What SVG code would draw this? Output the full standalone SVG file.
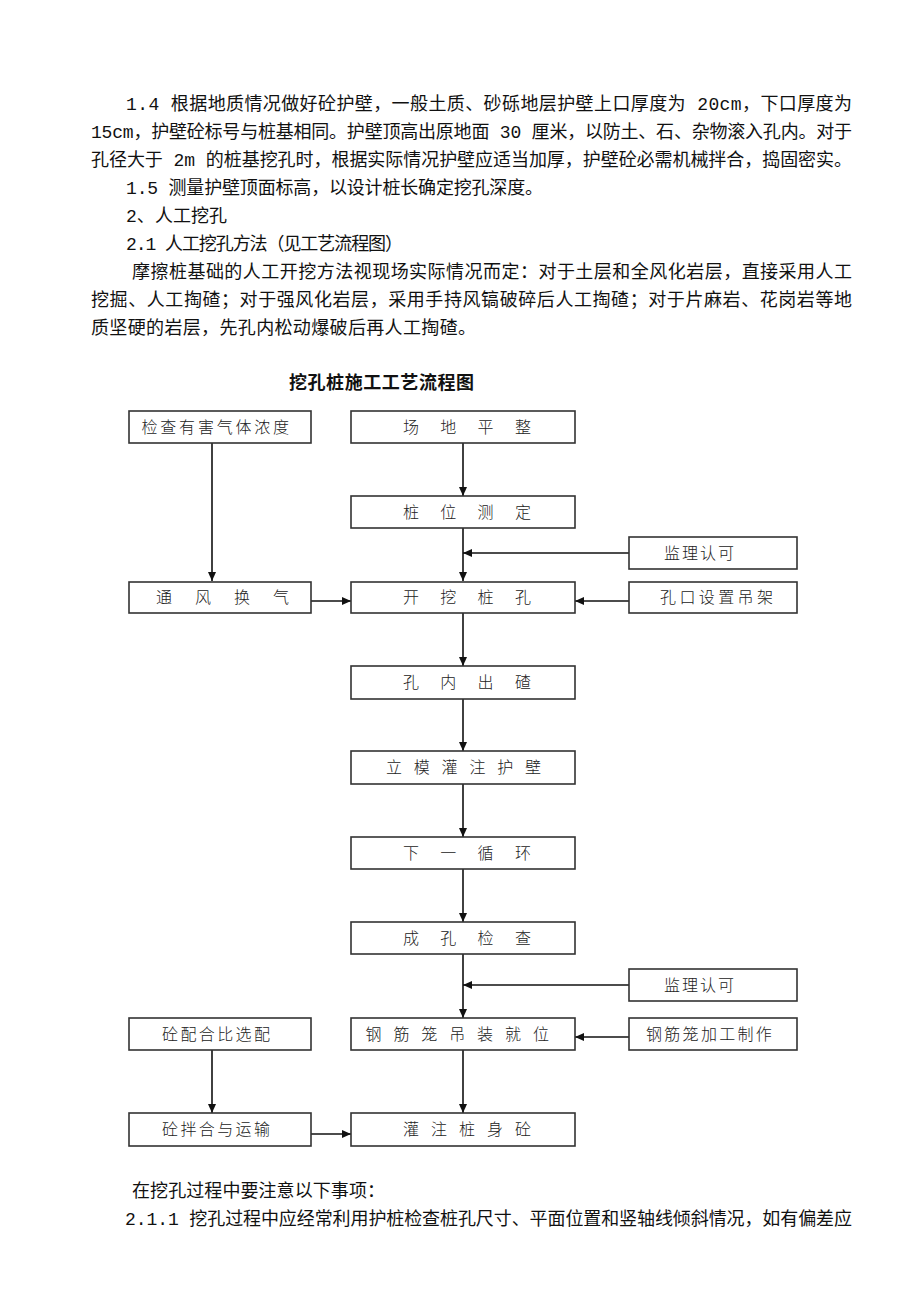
<svg xmlns="http://www.w3.org/2000/svg" width="920" height="1302" viewBox="0 0 920 1302">
<style>
.body{font-family:"Liberation Mono","Noto Sans CJK SC",monospace;font-size:18px;fill:#111}
.title{font-family:"Liberation Sans","Noto Sans CJK SC",sans-serif;font-size:18px;font-weight:bold;fill:#111}
.box{fill:#fff;stroke:#333;stroke-width:1.6}
.lbl{font-family:"Noto Sans CJK SC",sans-serif;font-size:16px;font-weight:300;fill:#222}
.con{stroke:#111;stroke-width:1.6;fill:none}
</style>
<defs>
<marker id="ah" markerWidth="10" markerHeight="10" refX="9" refY="5" orient="auto" markerUnits="userSpaceOnUse">
<path d="M0,1 L9,5 L0,9 Z" fill="#111"/>
</marker>
</defs>
<rect width="920" height="1302" fill="#fff"/>
<g id="text-top">
<text class="body" x="126" y="110" textLength="726" lengthAdjust="spacing">1.4 根据地质情况做好砼护壁，一般土质、砂砾地层护壁上口厚度为 20cm，下口厚度为</text>
<text class="body" x="91" y="138" textLength="761" lengthAdjust="spacing">15cm，护壁砼标号与桩基相同。护壁顶高出原地面 30 厘米，以防土、石、杂物滚入孔内。对于</text>
<text class="body" x="91" y="166" textLength="761" lengthAdjust="spacing">孔径大于 2m 的桩基挖孔时，根据实际情况护壁应适当加厚，护壁砼必需机械拌合，捣固密实。</text>
<text class="body" x="126" y="194" textLength="417" lengthAdjust="spacing">1.5 测量护壁顶面标高，以设计桩长确定挖孔深度。</text>
<text class="body" x="126" y="222" textLength="101" lengthAdjust="spacing">2、人工挖孔</text>
<text class="body" x="126" y="250" textLength="277" lengthAdjust="spacing">2.1 人工挖孔方法（见工艺流程图）</text>
<text class="body" x="132" y="278" textLength="720" lengthAdjust="spacing">摩擦桩基础的人工开挖方法视现场实际情况而定：对于土层和全风化岩层，直接采用人工</text>
<text class="body" x="91" y="306" textLength="761" lengthAdjust="spacing">挖掘、人工掏碴；对于强风化岩层，采用手持风镐破碎后人工掏碴；对于片麻岩、花岗岩等地</text>
<text class="body" x="91" y="334" textLength="385" lengthAdjust="spacing">质坚硬的岩层，先孔内松动爆破后再人工掏碴。</text>
</g>
<g id="title"><text class="title" x="289" y="389" textLength="185" lengthAdjust="spacing">挖孔桩施工工艺流程图</text></g>
<g id="connectors">
<line class="con" x1="212" y1="443" x2="212" y2="581" marker-end="url(#ah)"/>
<line class="con" x1="463" y1="443" x2="463" y2="496" marker-end="url(#ah)"/>
<line class="con" x1="463" y1="528" x2="463" y2="581" marker-end="url(#ah)"/>
<line class="con" x1="629" y1="553" x2="463" y2="553" marker-end="url(#ah)"/>
<line class="con" x1="311" y1="601" x2="351" y2="601" marker-end="url(#ah)"/>
<line class="con" x1="629" y1="601" x2="575" y2="601" marker-end="url(#ah)"/>
<line class="con" x1="463" y1="613" x2="463" y2="666" marker-end="url(#ah)"/>
<line class="con" x1="463" y1="699" x2="463" y2="751" marker-end="url(#ah)"/>
<line class="con" x1="463" y1="784" x2="463" y2="837" marker-end="url(#ah)"/>
<line class="con" x1="463" y1="869" x2="463" y2="922" marker-end="url(#ah)"/>
<line class="con" x1="463" y1="954" x2="463" y2="1018" marker-end="url(#ah)"/>
<line class="con" x1="629" y1="985" x2="463" y2="985" marker-end="url(#ah)"/>
<line class="con" x1="629" y1="1037" x2="575" y2="1037" marker-end="url(#ah)"/>
<line class="con" x1="212" y1="1050" x2="212" y2="1113" marker-end="url(#ah)"/>
<line class="con" x1="463" y1="1050" x2="463" y2="1113" marker-end="url(#ah)"/>
<line class="con" x1="311" y1="1134" x2="351" y2="1134" marker-end="url(#ah)"/>
</g>
<g id="n-jiancha"><rect class="box" x="129" y="411" width="182" height="32"/><text class="lbl" x="141.5 160.3 179.1 197.9 216.7 235.5 254.3 273.1" y="433">检查有害气体浓度</text></g>
<g id="n-changdi"><rect class="box" x="351" y="411" width="224" height="32"/><text class="lbl" x="403 440.3 477.6 515" y="433">场地平整</text></g>
<g id="n-zhuangwei"><rect class="box" x="351" y="496" width="224" height="32"/><text class="lbl" x="403 440.3 477.6 515" y="518">桩位测定</text></g>
<g id="n-jianli1"><rect class="box" x="629" y="537" width="168" height="32"/><text class="lbl" x="664 682 700 718" y="559">监理认可</text></g>
<g id="n-tongfeng"><rect class="box" x="129" y="582" width="182" height="31"/><text class="lbl" x="156 195 234 273" y="603">通风换气</text></g>
<g id="n-kaiwa"><rect class="box" x="351" y="582" width="224" height="31"/><text class="lbl" x="403 440.3 477.6 515" y="603">开挖桩孔</text></g>
<g id="n-kongkou"><rect class="box" x="629" y="582" width="168" height="31"/><text class="lbl" x="660 679.4 698.8 718.2 737.6 757" y="603">孔口设置吊架</text></g>
<g id="n-chucha"><rect class="box" x="351" y="666" width="224" height="33"/><text class="lbl" x="403 440.3 477.6 515" y="688">孔内出碴</text></g>
<g id="n-limo"><rect class="box" x="351" y="751" width="224" height="33"/><text class="lbl" x="386 413.8 441.6 469.4 497.2 525" y="773">立模灌注护壁</text></g>
<g id="n-xunhuan"><rect class="box" x="351" y="837" width="224" height="32"/><text class="lbl" x="403 440.3 477.6 515" y="859">下一循环</text></g>
<g id="n-chengkong"><rect class="box" x="351" y="922" width="224" height="32"/><text class="lbl" x="403 440.3 477.6 515" y="944">成孔检查</text></g>
<g id="n-jianli2"><rect class="box" x="629" y="969" width="168" height="32"/><text class="lbl" x="664 682 700 718" y="991">监理认可</text></g>
<g id="n-peihebi"><rect class="box" x="129" y="1018" width="182" height="32"/><text class="lbl" x="162 180.4 198.8 217.2 235.6 254" y="1040">砼配合比选配</text></g>
<g id="n-gangjinlong"><rect class="box" x="351" y="1018" width="224" height="32"/><text class="lbl" x="365.5 393.4 421.3 449.2 477.1 505 532.9" y="1040">钢筋笼吊装就位</text></g>
<g id="n-jiagong"><rect class="box" x="629" y="1018" width="168" height="32"/><text class="lbl" x="646 664.3 682.6 700.9 719.2 737.5 755.8" y="1040">钢筋笼加工制作</text></g>
<g id="n-banhe"><rect class="box" x="129" y="1113" width="182" height="33"/><text class="lbl" x="162 180.4 198.8 217.2 235.6 254" y="1135">砼拌合与运输</text></g>
<g id="n-guanzhu"><rect class="box" x="351" y="1113" width="224" height="33"/><text class="lbl" x="403 431 459 487 515" y="1135">灌注桩身砼</text></g>
<g id="text-bottom">
<text class="body" x="132" y="1197" textLength="253" lengthAdjust="spacing">在挖孔过程中要注意以下事项：</text>
<text class="body" x="125" y="1225" textLength="727" lengthAdjust="spacing">2.1.1 挖孔过程中应经常利用护桩检查桩孔尺寸、平面位置和竖轴线倾斜情况，如有偏差应</text>
</g>
</svg>
